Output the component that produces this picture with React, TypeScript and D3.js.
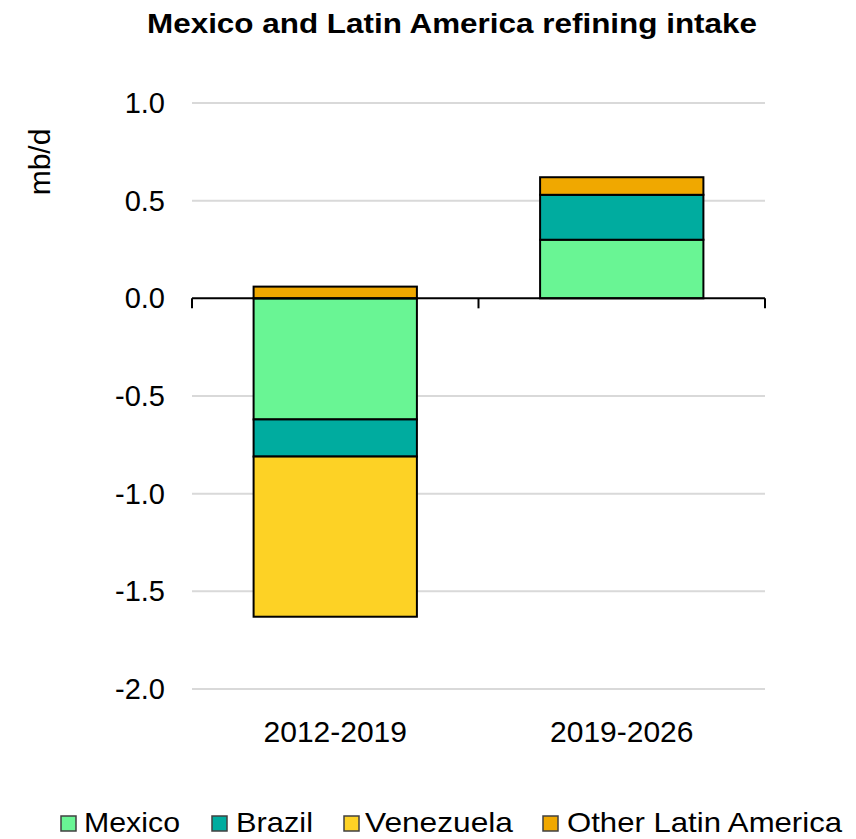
import React from "react";
import * as d3 from "d3";

const categories = ["2012-2019", "2019-2026"];
const seriesNames = ["Mexico", "Brazil", "Venezuela", "Other Latin America"];
const mexico = [-0.62, 0.3];
const brazil = [-0.19, 0.23];
const venezuela = [-0.82, 0.0];
const otherLatAm = [0.06, 0.09];
const yTicks = [1.0, 0.5, 0.0, -0.5, -1.0, -1.5, -2.0];
const colors = ["#69f594", "#00ac9f", "#fdd225", "#f0a800"];
const title = "Mexico and Latin America refining intake";
const yLabel = "mb/d";

const W = 856;
const H = 839;
const FONT = "'Liberation Sans', Arial, Helvetica, sans-serif";

const fmt = (v: number) => d3.format(".1f")(v).replace("\u2212", "-");

export default function App() {
  const x = d3.scaleBand<string>().domain(categories).range([192, 765]).padding(0);
  const y = d3.scaleLinear().domain([-2, 1]).range([689, 103]);
  const barW = x.bandwidth() * 0.57;

  const rows = categories.map((c, i) => ({
    cat: c,
    Mexico: mexico[i],
    Brazil: brazil[i],
    Venezuela: venezuela[i],
    "Other Latin America": otherLatAm[i],
  }));
  const stack = d3
    .stack<any>()
    .keys(seriesNames)
    .offset(d3.stackOffsetDiverging);
  const layers = stack(rows);

  const legendItems = [
    { name: "Mexico", sx: 61, tx: 84, tw: 96 },
    { name: "Brazil", sx: 212, tx: 236, tw: 77 },
    { name: "Venezuela", sx: 344, tx: 365, tw: 148 },
    { name: "Other Latin America", sx: 543, tx: 567, tw: 275 },
  ];

  return (
    <svg
      width={W}
      height={H}
      style={{ position: "absolute", left: 0, top: 0, background: "#fff" }}
      fontFamily={FONT}
    >
      <text
        x={452}
        y={33}
        textAnchor="middle"
        fontSize={28}
        fontWeight="bold"
        fill="#000"
        textLength={610}
        lengthAdjust="spacingAndGlyphs"
      >
        {title}
      </text>
      {yTicks.map((t) =>
        t !== 0 ? (
          <line key={"g" + t} x1={192} x2={765} y1={y(t)} y2={y(t)} stroke="#d9d9d9" strokeWidth={2} />
        ) : null
      )}
      {yTicks.map((t) => (
        <text key={"t" + t} x={165} y={y(t) + 10} textAnchor="end" fontSize={29} fill="#000">
          {fmt(t)}
        </text>
      ))}
      <text
        transform={`translate(50,162) rotate(-90)`}
        textAnchor="middle"
        fontSize={30}
        fill="#000"
      >
        {yLabel}
      </text>
      {layers.map((layer, li) =>
        layer.map((d, i) => {
          const y0 = Math.min(y(d[0]), y(d[1]));
          const h = Math.abs(y(d[0]) - y(d[1]));
          if (h < 0.01) return null;
          const cx = (x(categories[i]) as number) + x.bandwidth() / 2;
          return (
            <rect
              key={layer.key + i}
              x={cx - barW / 2}
              y={y0}
              width={barW}
              height={h}
              fill={colors[li]}
              stroke="#000"
              strokeWidth={2}
            />
          );
        })
      )}
      <line x1={192} x2={765} y1={y(0)} y2={y(0)} stroke="#000" strokeWidth={2} />
      {[192, 192 + x.bandwidth(), 765].map((tx) => (
        <line key={"k" + tx} x1={tx} x2={tx} y1={y(0)} y2={y(0) + 10} stroke="#000" strokeWidth={2} />
      ))}
      {categories.map((c) => (
        <text
          key={c}
          x={(x(c) as number) + x.bandwidth() / 2}
          y={742}
          textAnchor="middle"
          fontSize={30}
          fill="#000"
        >
          {c}
        </text>
      ))}
      {legendItems.map((it, i) => (
        <g key={it.name}>
          <rect x={it.sx} y={816} width={15} height={15} fill={colors[i]} stroke="#404040" strokeWidth={1.5} />
          <text
            x={it.tx}
            y={832}
            fontSize={28}
            fill="#000"
            textLength={it.tw}
            lengthAdjust="spacingAndGlyphs"
          >
            {it.name}
          </text>
        </g>
      ))}
    </svg>
  );
}
